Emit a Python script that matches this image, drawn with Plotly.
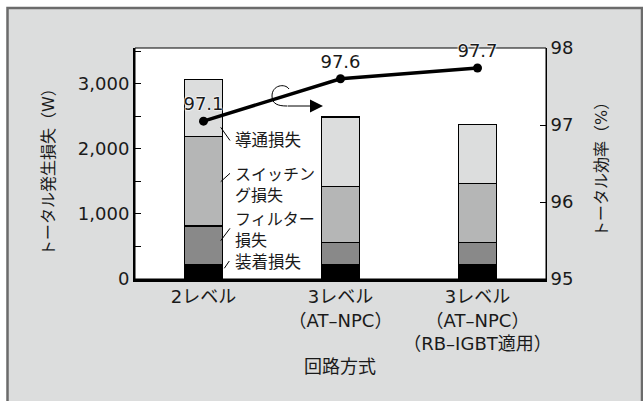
import plotly.graph_objects as go

# ---- data ----
categories = ["2レベル", "3レベル<br>（AT–NPC）", "3レベル<br>（AT–NPC）<br>（RB–IGBT適用）"]
mounting_loss = [215, 215, 215]          # 装着損失
filter_loss = [600, 350, 350]            # フィルター損失
switching_loss = [1370, 855, 907]        # スイッチング損失
conduction_loss = [885, 1068, 898]       # 導通損失
efficiency = [97.05, 97.6, 97.74]        # トータル効率(%)
efficiency_labels = ["97.1", "97.6", "97.7"]
left_ticks = [0, 1000, 2000, 3000]
left_ticktext = ["0", "1,000", "2,000", "3,000"]
right_ticks = [95, 96, 97, 98]

FONT = "DejaVu Sans, Noto Sans CJK JP"
JFONT = "Noto Sans CJK JP"
TXT = "#1a1a1a"

W, H = 643, 401
L, R, T, B = 135, 546, 48, 279


def px(xp):
    return (xp - L) / (R - L)


def py(yp):
    return (B - yp) / (B - T)


fig = go.Figure()
seg_colors = ["#000000", "#898989", "#b5b6b6", "#dcdddd"]
seg_names = ["装着損失", "フィルター損失", "スイッチング損失", "導通損失"]
for vals, col, nm in zip([mounting_loss, filter_loss, switching_loss, conduction_loss], seg_colors, seg_names):
    fig.add_trace(go.Bar(x=categories, y=vals, name=nm, marker=dict(color=col, line=dict(color="black", width=1.3)),
                         width=0.28, showlegend=False, hoverinfo="skip"))

fig.add_trace(go.Scatter(x=categories, y=efficiency, yaxis="y2", mode="lines+markers+text",
                         line=dict(color="black", width=3.5), marker=dict(color="black", size=9),
                         text=efficiency_labels, textposition="top center",
                         textfont=dict(family=FONT, size=18, color=TXT,
                                       shadow="0px 0px 2px white, 0px 0px 2px white, 0px 0px 2px white"),
                         cliponaxis=False, showlegend=False))

shapes = [
    dict(type="rect", xref="paper", yref="paper", x0=px(7.5), x1=px(642), y0=py(8), y1=py(410),
         fillcolor="#dcdddd", line=dict(color="#6b6b6b", width=2.5), layer="below"),
    dict(type="rect", xref="paper", yref="paper", x0=0, x1=1, y0=0, y1=1,
         fillcolor="white", line=dict(color="black", width=1), layer="below"),
]
# leader lines
for (x0, y0, x1, y1) in [(220.7, 127.3, 230, 140.5), (220.7, 181.7, 230, 173.3),
                         (220.7, 240.7, 230, 228.3), (224.3, 268.3, 229.3, 261)]:
    shapes.append(dict(type="line", xref="paper", yref="paper", x0=px(x0), y0=py(y0), x1=px(x1), y1=py(y1),
                       line=dict(color="black", width=1)))
# open circle of the axis-reference arrow
pts = [(289, 89), (285, 83), (272, 85), (272, 96), (272, 104), (278, 106), (287, 106)]
pp = [(px(a), py(b)) for a, b in pts]
path = "M {} {} C {} {}, {} {}, {} {} C {} {}, {} {}, {} {}".format(*[v for p in pp for v in p])
shapes.append(dict(type="path", xref="paper", yref="paper", path=path, line=dict(color="black", width=1)))

annotations = []


def ann(text, xp, yp, size=16.5, xanchor="left", angle=0, font=JFONT):
    annotations.append(dict(text=text, x=px(xp), y=py(yp), xref="paper", yref="paper", showarrow=False,
                            xanchor=xanchor, yanchor="middle", textangle=angle, borderpad=0, align=xanchor,
                            font=dict(family=font, size=size, color=TXT)))


ann("導通損失", 234, 139)
ann("スイッチン<br>グ損失", 234, 183, size=16)
ann("フィルター<br>損失", 234, 228, size=16)
ann("装着損失", 234, 261)
ann("トータル発生損失（W）", 48, 168, size=16, xanchor="center", angle=-90, font=FONT)
ann("トータル効率（%）", 601, 166, size=16, xanchor="center", angle=-90, font=FONT)
ann("回路方式", 340, 365, size=18, xanchor="center")

annotations.append(dict(text="", x=px(323), y=py(106), xref="paper", yref="paper",
                        ax=-37, ay=0, axref="pixel", ayref="pixel",
                        showarrow=True, arrowhead=2, arrowsize=2.6, arrowwidth=1, arrowcolor="black"))

fig.update_layout(
    width=W, height=H, margin=dict(l=L, r=W - R, t=T, b=H - B),
    paper_bgcolor="white", plot_bgcolor="rgba(0,0,0,0)",
    barmode="stack", shapes=shapes, annotations=annotations,
    font=dict(family=FONT, size=18, color=TXT),
    xaxis=dict(type="category", range=[-0.5, 2.5], showline=True, linewidth=2.5, linecolor="black",
               ticks="", showgrid=False, tickfont=dict(family=FONT, size=18, color=TXT)),
    yaxis=dict(range=[0, 3550], tickvals=left_ticks, ticktext=left_ticktext, ticks="inside", ticklen=6,
               tickwidth=1, tickcolor="black", showline=True, linewidth=2, linecolor="black",
               showgrid=False, zeroline=False, tickfont=dict(family=FONT, size=18, color=TXT),
               minor=dict(dtick=500, ticks="inside", ticklen=6, tickcolor="black", tickwidth=1)),
    yaxis2=dict(range=[95, 98], tickvals=right_ticks, overlaying="y", side="right", ticks="inside",
                ticklen=6, tickcolor="black", showline=True, linewidth=1, linecolor="black",
                showgrid=False, zeroline=False, tickfont=dict(family=FONT, size=18, color=TXT)),
)

fig.write_html("out.html")
